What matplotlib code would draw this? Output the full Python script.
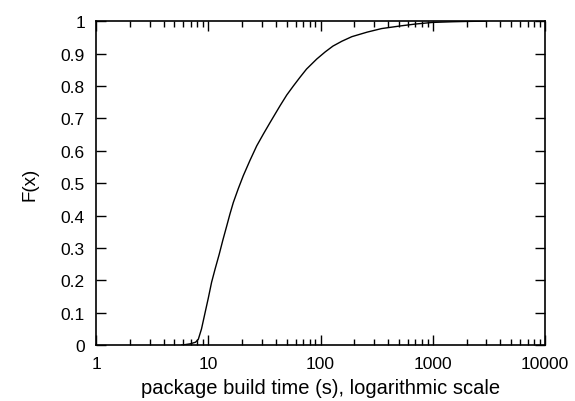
import matplotlib
matplotlib.use("Agg")
import matplotlib.pyplot as plt
from matplotlib.ticker import LogLocator, FixedLocator, NullFormatter

plt.rcParams["font.family"] = ["Liberation Sans", "DejaVu Sans"]

# build time (s) vs cumulative fraction
build_time = [5.8, 6.9, 7.7, 8.15, 8.7, 9.36, 10.0, 10.7, 11.5, 12.5, 13.5,
              14.6, 15.6, 16.7, 18.5, 20.5, 23.5, 27.0, 31.0, 35.5, 43.6, 50.0,
              57.3, 65.7, 75.0, 92.5, 110, 129, 155, 190, 260, 350, 511, 700,
              1000, 1500, 2000, 3000]
cdf = [0.0, 0.004, 0.009, 0.018, 0.05, 0.10, 0.145, 0.194, 0.235, 0.28, 0.325,
       0.368, 0.405, 0.44, 0.483, 0.523, 0.57, 0.615, 0.652, 0.687, 0.739,
       0.772, 0.80, 0.827, 0.852, 0.883, 0.905, 0.923, 0.938, 0.952, 0.966,
       0.977, 0.985, 0.991, 0.996, 0.998, 0.999, 1.0]
y_ticks = [0, 0.1, 0.2, 0.3, 0.4, 0.5, 0.6, 0.7, 0.8, 0.9, 1]
x_ticks = [1, 10, 100, 1000, 10000]
x_labels = ["1", "10", "100", "1000", "10000"]

fig = plt.figure(figsize=(5.75, 4.02), dpi=100)
ax = fig.add_axes([0.167, 0.139, 0.781, 0.806])
ax.plot(build_time, cdf, color="black", lw=1.0)

ax.set_xscale("log")
ax.set_xlim(1, 10000)
ax.set_ylim(0, 1)
ax.xaxis.set_major_locator(FixedLocator(x_ticks))
ax.set_xticklabels(x_labels)
ax.xaxis.set_minor_locator(LogLocator(base=10, subs=range(2, 10)))
ax.xaxis.set_minor_formatter(NullFormatter())
ax.set_yticks(y_ticks)
ax.set_yticklabels([f"{v:g}" for v in y_ticks])

ax.tick_params(which="major", direction="in", length=7, width=1,
               top=True, right=True, labelsize=12.5, pad=8)
ax.tick_params(which="minor", direction="in", length=4, width=1,
               top=True, right=True)
for s in ax.spines.values():
    s.set_linewidth(1.2)

ax.set_xlabel("package build time (s), logarithmic scale", fontsize=14.5, labelpad=5)
ax.set_ylabel("F(x)", fontsize=13.5, labelpad=16)

fig.savefig("out.png", dpi=100)
